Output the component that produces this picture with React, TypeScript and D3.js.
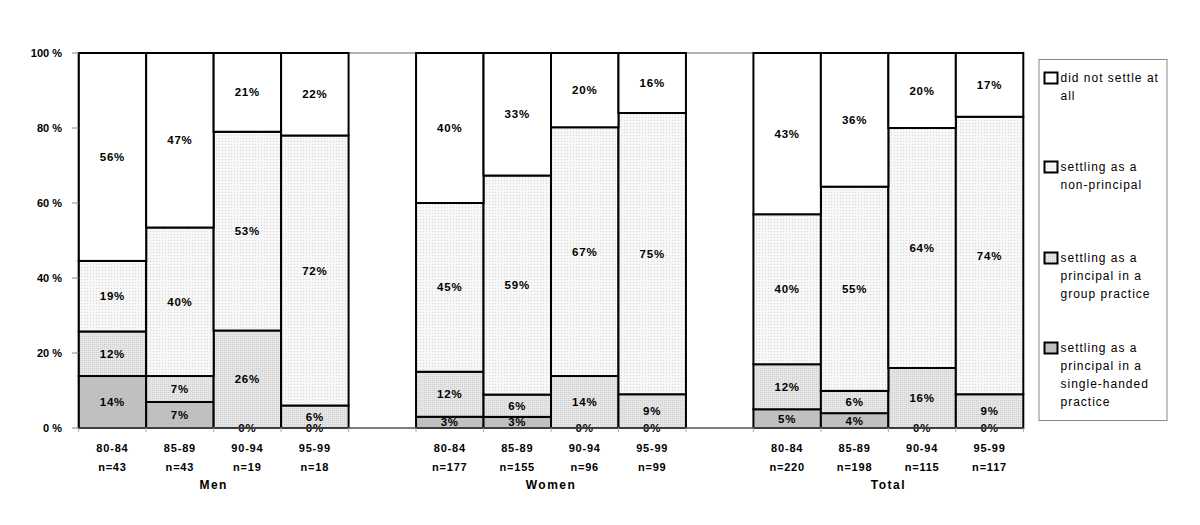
import React from "react";
import * as d3 from "d3";

const categories = ["80-84", "85-89", "90-94", "95-99"];
const groups = ["Men", "Women", "Total"];
const nLabels = [
  ["n=43", "n=43", "n=19", "n=18"],
  ["n=177", "n=155", "n=96", "n=99"],
  ["n=220", "n=198", "n=115", "n=117"],
];
const seriesNames = [
  "settling as a principal in a single-handed practice",
  "settling as a principal in a group practice",
  "settling as a non-principal",
  "did not settle at all",
];
const legendLines = [
  ["did not settle at", "all"],
  ["settling as a", "non-principal"],
  ["settling as a", "principal in a", "group practice"],
  ["settling as a", "principal in a", "single-handed", "practice"],
];
const singleHanded = [14, 7, 0, 0, 3, 3, 0, 0, 5, 4, 0, 0];
const groupPractice = [12, 7, 26, 6, 12, 6, 14, 9, 12, 6, 16, 9];
const nonPrincipal = [19, 40, 53, 72, 45, 59, 67, 75, 40, 55, 64, 74];
const notSettled = [56, 47, 21, 22, 40, 33, 20, 16, 43, 36, 20, 17];
const yTicks = [0, 0.2, 0.4, 0.6, 0.8, 1];

const fills = ["#c0c0c0", "url(#patGroup)", "url(#patNonPrin)", "#ffffff"];
const legendFills = ["#ffffff", "url(#patNonPrin)", "url(#patGroup)", "#c0c0c0"];

export default function App() {
  const W = 1200, H = 525;
  const rows = singleHanded.map((_, i) => ({
    key: `${Math.floor(i / 4)}|${i % 4}`,
    s0: singleHanded[i],
    s1: groupPractice[i],
    s2: nonPrincipal[i],
    s3: notSettled[i],
  }));
  const slots: string[] = [];
  groups.forEach((g, gi) => {
    categories.forEach((c, ci) => slots.push(`${gi}|${ci}`));
    if (gi < groups.length - 1) slots.push(`gap${gi}`);
  });
  const x = d3.scaleBand<string>().domain(slots).range([78.7, 1023.3]).paddingInner(0).paddingOuter(0);
  const y = d3.scaleLinear().domain([0, 1]).range([428, 53]);
  const stack = d3.stack<any>().keys(["s0", "s1", "s2", "s3"]).offset(d3.stackOffsetExpand);
  const stacked = stack(rows);
  const font = "'Liberation Sans', Arial, sans-serif";

  return (
    <svg width={W} height={H} style={{ position: "absolute", left: 0, top: 0, background: "#fff" }} fontFamily={font}>
      <defs>
        <pattern id="patNonPrin" width="3" height="3" patternUnits="userSpaceOnUse">
          <rect width="3" height="3" fill="#f7f7f7" />
          <rect x="0" y="0" width="1" height="1" fill="#d8d8d8" />
        </pattern>
        <pattern id="patGroup" width="2" height="2" patternUnits="userSpaceOnUse">
          <rect width="2" height="2" fill="#e6e6e6" />
          <rect x="0" y="0" width="1" height="1" fill="#cfcfcf" />
        </pattern>
      </defs>
      <line x1={78.7} x2={1023.3} y1={y(1)} y2={y(1)} stroke="#999" strokeWidth={1.5} />
      {stacked.map((layer, li) =>
        layer.map((d, i) => {
          const key = rows[i].key;
          const x0 = x(key)!;
          return (
            <rect key={`${li}-${i}`} x={x0} y={y(d[1])} width={x.bandwidth()} height={y(d[0]) - y(d[1])}
              fill={fills[li]} stroke="#000" strokeWidth={2} />
          );
        })
      )}
      {stacked.map((layer, li) =>
        layer.map((d, i) => {
          const key = rows[i].key;
          const v = (rows[i] as any)[`s${li}`];
          const cx = x(key)! + x.bandwidth() / 2;
          const cy = (y(d[0]) + y(d[1])) / 2;
          return (
            <text key={`t${li}-${i}`} x={cx} y={cy} textAnchor="middle" dominantBaseline="central"
              fontSize={11.5} fontWeight="bold" letterSpacing={0.8} fill="#000">{`${v}%`}</text>
          );
        })
      )}
      <line x1={78.7} x2={1023.3} y1={y(0)} y2={y(0)} stroke="#555" strokeWidth={1.5} />
      {slots.map((s) => (
        <line key={`xt${s}`} x1={x(s)!} x2={x(s)!} y1={y(0)} y2={y(0) + 4} stroke="#aaa" strokeWidth={1} />
      ))}
      <line x1={1023.3} x2={1023.3} y1={y(0)} y2={y(0) + 4} stroke="#aaa" strokeWidth={1} />
      <line x1={78.7} x2={78.7} y1={y(0)} y2={y(1)} stroke="#000" strokeWidth={1.5} />
      {yTicks.map((t) => (
        <g key={`yt${t}`}>
          <line x1={72} x2={78.7} y1={y(t)} y2={y(t)} stroke="#888" strokeWidth={1} />
          <text x={62} y={y(t)} textAnchor="end" dominantBaseline="central" fontSize={11} fontWeight="bold">{`${Math.round(t * 100)} %`}</text>
        </g>
      ))}
      {groups.map((g, gi) => {
        const first = x(`${gi}|0`)!;
        const last = x(`${gi}|${categories.length - 1}`)! + x.bandwidth();
        return (
          <g key={`g${g}`}>
            {categories.map((c, ci) => {
              const cx = x(`${gi}|${ci}`)! + x.bandwidth() / 2;
              return (
                <g key={`c${gi}${ci}`}>
                  <text x={cx} y={448} textAnchor="middle" dominantBaseline="central" fontSize={11} fontWeight="bold" letterSpacing={0.8}>{c}</text>
                  <text x={cx} y={467} textAnchor="middle" dominantBaseline="central" fontSize={11} fontWeight="bold" letterSpacing={0.8}>{nLabels[gi][ci]}</text>
                </g>
              );
            })}
            <text x={(first + last) / 2} y={485} textAnchor="middle" dominantBaseline="central" fontSize={12} fontWeight="bold" letterSpacing={1.5}>{g}</text>
          </g>
        );
      })}
      <rect x={1039} y={59.5} width={128} height={361} fill="#fff" stroke="#888" strokeWidth={1} />
      {legendLines.map((lines, li) => {
        const top = [78, 167, 258, 348][li];
        return (
          <g key={`lg${li}`}>
            <rect x={1044.5} y={top - 5.5} width={13} height={11} fill={legendFills[li]} stroke="#000" strokeWidth={2} />
            {lines.map((ln, k) => (
              <text key={k} x={1060.5} y={top + k * 18} dominantBaseline="central" fontSize={12} letterSpacing={1}>{ln}</text>
            ))}
          </g>
        );
      })}
      <title>{seriesNames.join("; ")}</title>
    </svg>
  );
}
